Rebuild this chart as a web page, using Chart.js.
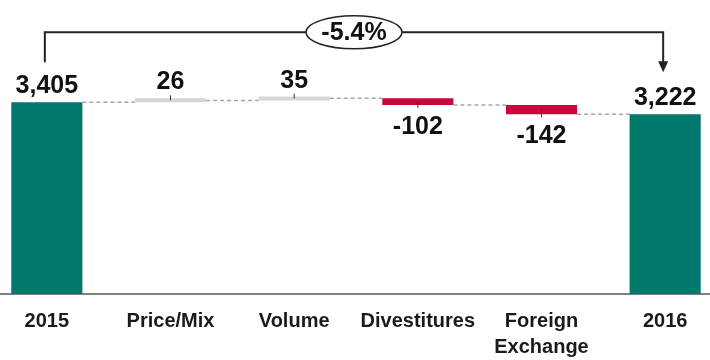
<!DOCTYPE html>
<html>
<head>
<meta charset="utf-8">
<script src="https://cdn.jsdelivr.net/npm/chart.js@4/dist/chart.umd.min.js"></script>
<style>
  html, body { margin: 0; padding: 0; background: #fff; overflow: hidden; }
  #wrap { position: absolute; left: -15px; top: 0; width: 742px; height: 360px; }
</style>
</head>
<body>
<div id="wrap"><canvas id="bridge"></canvas></div>
<script>
const categories = ['2015', 'Price/Mix', 'Volume', 'Divestitures', ['Foreign', 'Exchange'], '2016'];
const amounts = [3405, 26, 35, -102, -142, 3222];
const isTotal = [true, false, false, false, false, true];

const TEAL = '#00786b';
const RED = '#c8083c';
const GRAY = '#d6d6d6';
const FONT = '"Liberation Sans", Arial, sans-serif';

// totals stand on zero, changes float off the running total
let running = 0;
const ranges = amounts.map((v, i) => {
  if (isTotal[i]) { running = v; return [0, v]; }
  const from = running;
  running += v;
  return [from, running];
});
const colors = amounts.map((v, i) => isTotal[i] ? TEAL : (v >= 0 ? GRAY : RED));
const pctChange = (amounts[amounts.length - 1] - amounts[0]) / amounts[0] * 100;

const bridgeDecor = {
  id: 'bridgeDecor',
  beforeDatasetsDraw(chart) {
    const ctx = chart.ctx;
    const bars = chart.getDatasetMeta(0).data;
    const y = chart.scales.y;
    // dashed connectors at each running total
    ctx.save();
    ctx.strokeStyle = '#a6a6a6';
    ctx.lineWidth = 1.5;
    ctx.setLineDash([4, 3]);
    for (let i = 0; i < bars.length - 1; i++) {
      const level = y.getPixelForValue(ranges[i][1]);
      const a = bars[i], b = bars[i + 1];
      ctx.beginPath();
      ctx.moveTo(a.x + a.width / 2, level);
      ctx.lineTo(b.x - b.width / 2, level);
      ctx.stroke();
    }
    ctx.restore();
  },
  afterDatasetsDraw(chart) {
    const ctx = chart.ctx;
    const bars = chart.getDatasetMeta(0).data;
    ctx.save();

    // small centre ticks on the change bars
    ctx.strokeStyle = '#333';
    ctx.lineWidth = 1;
    bars.forEach((bar, i) => {
      if (isTotal[i]) return;
      const top = Math.min(bar.y, bar.base), bottom = Math.max(bar.y, bar.base);
      ctx.beginPath();
      if (amounts[i] >= 0) {
        ctx.moveTo(bar.x, top - 3);
        ctx.lineTo(bar.x, top + 2);
      } else {
        ctx.moveTo(bar.x, (top + bottom) / 2);
        ctx.lineTo(bar.x, bottom + 3);
      }
      ctx.stroke();
    });

    // value labels
    ctx.font = `bold 25px ${FONT}`;
    ctx.fillStyle = '#111';
    ctx.textAlign = 'center';
    ctx.textBaseline = 'alphabetic';
    bars.forEach((bar, i) => {
      const top = Math.min(bar.y, bar.base), bottom = Math.max(bar.y, bar.base);
      const text = amounts[i].toLocaleString('en-US');
      if (amounts[i] >= 0) ctx.fillText(text, bar.x, top - 9);
      else ctx.fillText(text, bar.x, bottom + 29);
    });

    // bracket from first total to last total with the overall change
    const first = bars[0], last = bars[bars.length - 1];
    const lineY = first.y - 70;
    ctx.strokeStyle = '#222';
    ctx.fillStyle = '#222';
    ctx.lineWidth = 2;
    ctx.beginPath();
    ctx.moveTo(first.x - 2, first.y - 40);
    ctx.lineTo(first.x - 2, lineY);
    ctx.lineTo(last.x - 2, lineY);
    ctx.lineTo(last.x - 2, last.y - 52);
    ctx.stroke();
    ctx.beginPath();
    ctx.moveTo(last.x - 7, last.y - 53);
    ctx.lineTo(last.x + 3, last.y - 53);
    ctx.lineTo(last.x - 2, last.y - 42);
    ctx.closePath();
    ctx.fill();

    const cx = (first.x + last.x) / 2 - 2;
    ctx.beginPath();
    ctx.ellipse(cx, lineY, 48, 16.5, 0, 0, Math.PI * 2);
    ctx.fillStyle = '#fff';
    ctx.fill();
    ctx.lineWidth = 1.5;
    ctx.stroke();
    ctx.fillStyle = '#111';
    ctx.font = `bold 25px ${FONT}`;
    ctx.textBaseline = 'middle';
    ctx.fillText(pctChange.toFixed(1) + '%', cx, lineY + 1);

    ctx.restore();
  }
};

new Chart(document.getElementById('bridge'), {
  type: 'bar',
  data: {
    labels: categories,
    datasets: [{
      data: ranges,
      backgroundColor: colors,
      borderWidth: 0,
      barPercentage: 0.575,
      categoryPercentage: 1,
      minBarLength: 4,
      clip: 0
    }]
  },
  options: {
    responsive: true,
    maintainAspectRatio: false,
    animation: false,
    layout: { padding: { top: 30 } },
    plugins: {
      legend: { display: false },
      tooltip: { enabled: false }
    },
    scales: {
      x: {
        z: 1,
        grid: { display: false },
        border: { display: true, color: '#7f7f7f', width: 2 },
        ticks: {
          color: '#1a1a1a',
          font: { family: FONT, size: 20, weight: 'bold', lineHeight: 1.3 },
          padding: 6,
          maxRotation: 0,
          autoSkip: false
        },
        afterFit(scale) { scale.height = 66; }
      },
      y: { display: false, min: 500, max: 4500 }
    }
  },
  plugins: [bridgeDecor]
});
</script>
</body>
</html>
